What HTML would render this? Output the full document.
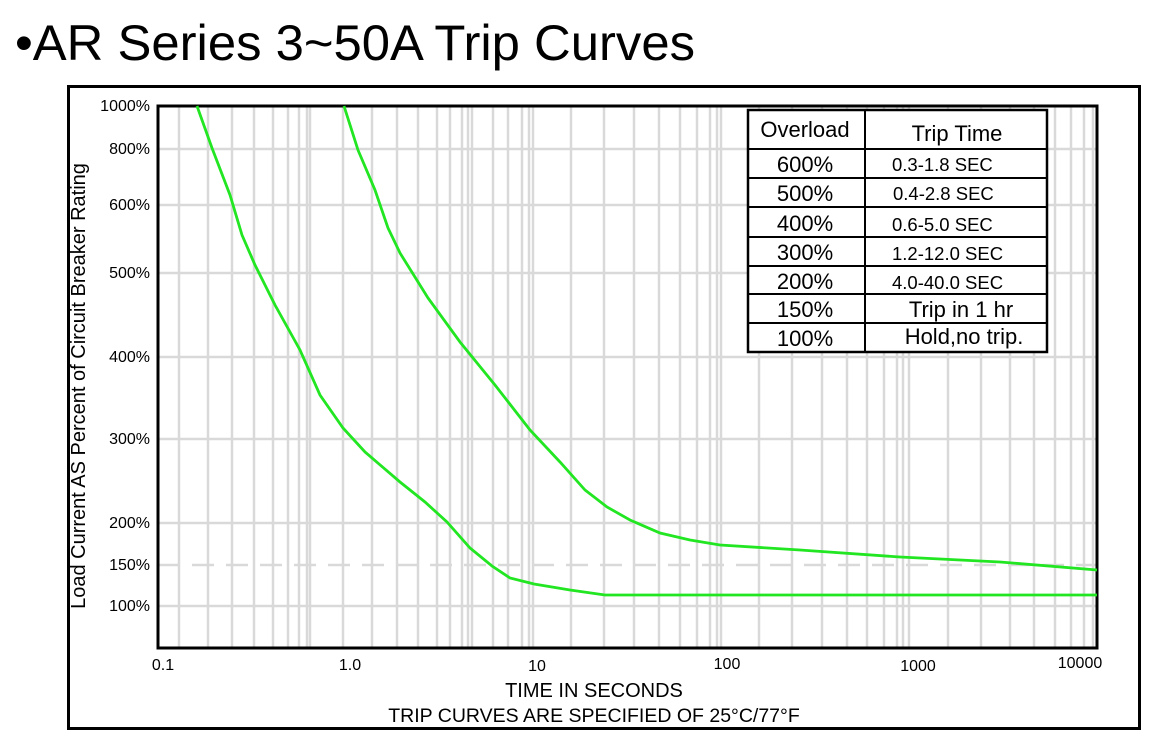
<!DOCTYPE html>
<html><head><meta charset="utf-8"><style>
body{margin:0;background:#fff;width:1154px;height:740px;overflow:hidden;font-family:"Liberation Sans",sans-serif}
</style></head><body>
<svg width="1154" height="740" xmlns="http://www.w3.org/2000/svg" font-family="Liberation Sans, sans-serif">
<text x="15" y="60" font-size="50" fill="#000" textLength="680" lengthAdjust="spacingAndGlyphs">•AR Series 3~50A Trip Curves</text>
<rect x="68.5" y="86.5" width="1071" height="642" fill="none" stroke="#000" stroke-width="3"/>
<g stroke="#d9d9d9" stroke-width="2.5">
<path d="M179 106V648M208 106V648M232 106V648M254 106V648M273 106V648M288 106V648M299 106V648M307 106V648M310 106V648M343 106V648M372 106V648M397 106V648M418 106V648M437 106V648M450 106V648M462 106V648M468 106V648M472 106V648M493 106V648M508 106V648M522 106V648M529 106V648M533 106V648M571 106V648M604 106V648M634 106V648M659 106V648M680 106V648M697 106V648M710 106V648M717 106V648M721 106V648M759 106V648M792 106V648M822 106V648M847 106V648M867 106V648M884 106V648M897 106V648M903 106V648M909 106V648M948 106V648M981 106V648M1010 106V648M1034 106V648M1055 106V648M1071 106V648M1084 106V648M1093 106V648"/>
<path d="M158 149H1097M158 205H1097M158 273H1097M158 357H1097M158 439H1097M158 523H1097M158 606H1097"/>
<path d="M158 565H1097" stroke-dasharray="22,12"/>
</g>
<path d="M158 106H1097V648H158Z" fill="none" stroke="#000" stroke-width="3"/>
<g fill="none" stroke="#22e622" stroke-width="2.8">
<polyline points="197,106 212,148 230,195 242,235 255,265 275,305 300,350 320,395 343,428 365,452 400,482 425,502 447,522 470,548 492,566 510,578 534,584 570,590 605,595 1097,595"/>
<polyline points="344,106 358,150 375,190 388,228 400,253 428,298 460,342 495,385 530,430 560,462 585,490 607,507 630,520 660,533 690,540 720,545 800,550 900,557 1000,562 1097,570"/>
</g>
<g font-size="16" text-anchor="end" fill="#000">
<text x="150" y="111">1000%</text><text x="150" y="154">800%</text><text x="150" y="210">600%</text><text x="150" y="278">500%</text><text x="150" y="362">400%</text><text x="150" y="444">300%</text><text x="150" y="528">200%</text><text x="150" y="570">150%</text><text x="150" y="611">100%</text>
</g>
<g font-size="16" text-anchor="middle" fill="#000">
<text x="163" y="670">0.1</text><text x="350" y="670">1.0</text><text x="537" y="671">10</text><text x="727" y="669">100</text><text x="918" y="671">1000</text><text x="1080" y="668">10000</text>
</g>
<text transform="translate(85,386) rotate(-90)" font-size="20" text-anchor="middle">Load Current AS Percent of Circuit Breaker Rating</text>
<text x="594" y="697" font-size="20" text-anchor="middle">TIME IN SECONDS</text>
<text x="594" y="722" font-size="19.5" text-anchor="middle">TRIP CURVES ARE SPECIFIED OF 25°C/77°F</text>
<rect x="748" y="110" width="299" height="242" fill="#fff" stroke="#000" stroke-width="2.5"/>
<g stroke="#000" stroke-width="2">
<path d="M865 110V352M748 149H1047M748 178H1047M748 207H1047M748 237H1047M748 266H1047M748 294H1047M748 323H1047"/>
</g>
<g font-size="22" text-anchor="middle" fill="#000">
<text x="805" y="137">Overload</text><text x="957" y="141">Trip Time</text>
<text x="805" y="172">600%</text><text x="805" y="201">500%</text><text x="805" y="231">400%</text><text x="805" y="260">300%</text><text x="805" y="289">200%</text><text x="805" y="317">150%</text><text x="805" y="346">100%</text>
<text x="961" y="317">Trip in 1 hr</text><text x="964" y="344">Hold,no trip.</text>
</g>
<g font-size="18.5" fill="#000">
<text x="892" y="171">0.3-1.8 SEC</text><text x="893" y="200">0.4-2.8 SEC</text><text x="892" y="231">0.6-5.0 SEC</text><text x="892" y="260">1.2-12.0 SEC</text><text x="892" y="289">4.0-40.0 SEC</text>
</g>
</svg>
</body></html>
